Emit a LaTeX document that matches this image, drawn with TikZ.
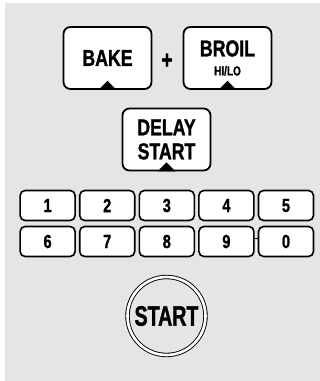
\documentclass[tikz,border=0pt]{standalone}
\usepackage{fontspec}
\newfontfamily\keyfont[FakeStretch=0.77,FakeBold=1.2]{Liberation Sans Bold}
\newfontfamily\startfont[FakeStretch=0.70,FakeBold=1.2]{Liberation Sans Bold}
\definecolor{panel}{gray}{0.9}
\begin{document}
\begin{tikzpicture}[x=1pt,y=-1pt,
    keybox/.style={draw, line width=1.8pt, rounded corners=7pt, fill=white,
        minimum width=88pt, minimum height=62pt, align=center,
        font=\keyfont\fontsize{23}{24}\selectfont},
    numkey/.style={draw, line width=1.6pt, rounded corners=5pt, fill=white,
        minimum width=55pt, minimum height=30pt,
        font=\keyfont\fontsize{19}{19}\selectfont},
    notch/.style={fill=black}]
    \useasboundingbox (0,0) rectangle (320,381);
    \fill[panel] (5,3) rectangle (320,381);
    % bake + broil
    \node[keybox] (bake) at (107.5,58) {BAKE};
    \node[font=\keyfont\fontsize{25}{25}\selectfont] (plus) at (167,61) {+};
    \node[keybox] (broil) at (227.5,58) {BROIL\\[-5pt]{\fontsize{13}{13}\selectfont HI/LO}};
    \fill[notch] ([xshift=-9pt]bake.south) -- ([xshift=9pt]bake.south) -- ([yshift=9pt]bake.south) -- cycle;
    \fill[notch] ([xshift=-9pt]broil.south) -- ([xshift=9pt]broil.south) -- ([yshift=9pt]broil.south) -- cycle;
    % delay start
    \node[keybox] (delay) at (166.5,139.5) {DELAY\\START};
    \fill[notch] ([xshift=-9pt]delay.south) -- ([xshift=9pt]delay.south) -- ([yshift=9pt]delay.south) -- cycle;
    % number pad
    \foreach \d [count=\i] in {1,2,3,4,5} {
        \node[numkey] (k\d) at (-12+59.6*\i,205.5) {\d};
    }
    \foreach \d [count=\i] in {6,7,8,9,0} {
        \node[numkey] (k\d) at (-12+59.6*\i,241.5) {\d};
    }
    \fill[white] ([xshift=0.8pt,yshift=2pt]k9.east) rectangle ([xshift=-0.8pt,yshift=-13pt]k0.west);
    \draw[line width=1.6pt] ([yshift=3pt]k9.east) -- ([yshift=3pt]k0.west);
    % start
    \node[circle, draw, double, double distance=2.6pt, line width=0.9pt,
        minimum size=78pt, inner sep=0pt,
        font=\startfont\fontsize{28}{28}\selectfont] (start) at (166.5,316) {START};
\end{tikzpicture}
\end{document}
